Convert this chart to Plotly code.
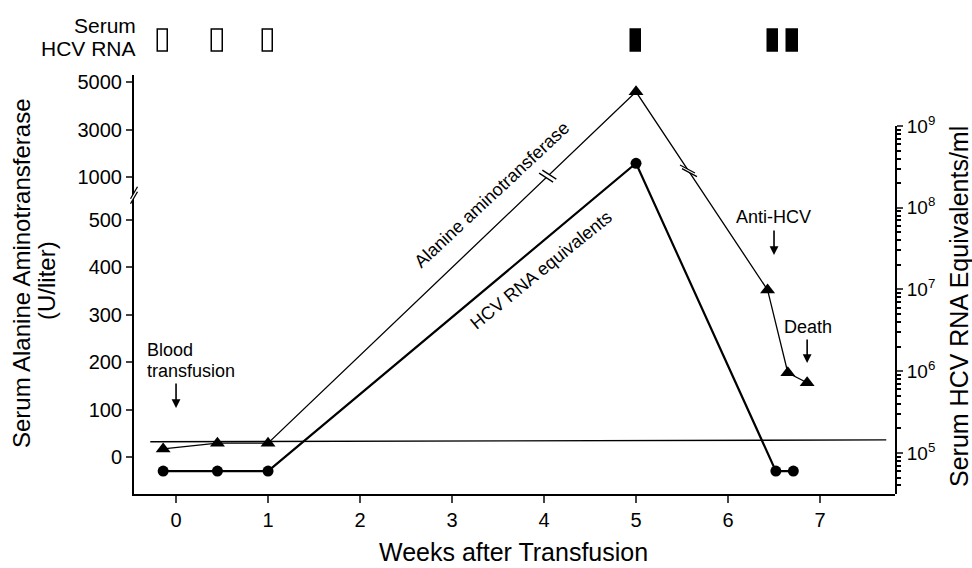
import numpy as np
import plotly.graph_objects as go

# ---- data ----
alt_weeks = [-0.14, 0.45, 1.0, 5.0, 6.43, 6.65, 6.86]
alt_values = [18, 30, 30, 4600, 352, 178, 157]          # U/liter

rna_weeks = [-0.14, 0.45, 1.0, 5.0, 6.52, 6.71]
rna_values = [6e4, 6e4, 6e4, 3.5e8, 6e4, 6e4]           # equivalents/ml

serum_weeks = [-0.14, 0.45, 1.0, 5.0, 6.49, 6.70]
serum_positive = [False, False, False, True, True, True]

limit_weeks = [-0.28, 7.72]
limit_values = [33, 37]

alt_ticks = [0, 100, 200, 300, 400, 500, 1000, 3000, 5000]
alt_ticktext = [str(t) for t in alt_ticks]

rna_ticks = [1e5, 1e6, 1e7, 1e8, 1e9]
rna_ticktext = ["10<sup>5</sup>", "10<sup>6</sup>", "10<sup>7</sup>",
                "10<sup>8</sup>", "10<sup>9</sup>"]

FONT = "Liberation Sans, Arial, Helvetica, sans-serif"
MT, MB = 15, 74
PH = 568 - MT - MB     # plot height in px


def alt_scale(v):
    """Broken ALT axis: linear 0-500, gap, then compressed 1000-5000."""
    v = np.asarray(v, dtype=float)
    return np.where(v <= 500, v, 589.3 + (v - 1000) * 0.0497)


def py(pix):
    """paper y fraction for a pixel row of the 972x568 picture"""
    return (568 - MB - pix) / PH


alt_disp = alt_scale(alt_values)
lim_disp = alt_scale(limit_values)

minor_vals = [k * 10 ** e for e in range(4, 9) for k in range(2, 10)]

fig = go.Figure()

fig.add_trace(go.Scatter(x=limit_weeks, y=list(lim_disp), mode="lines",
                         line=dict(color="black", width=1.4),
                         hoverinfo="skip", showlegend=False))

fig.add_trace(go.Scatter(x=alt_weeks, y=list(alt_disp), mode="lines+markers",
                         line=dict(color="black", width=1.3),
                         marker=dict(symbol="triangle-up", size=13, color="black"),
                         showlegend=False, name="ALT"))

fig.add_trace(go.Scatter(x=rna_weeks, y=rna_values, yaxis="y2", mode="lines+markers",
                         line=dict(color="black", width=2.2),
                         marker=dict(symbol="circle", size=11, color="black"),
                         showlegend=False, name="HCV RNA"))

fig.add_trace(go.Bar(x=serum_weeks, y=[1] * len(serum_weeks), base=0, yaxis="y3",
                     width=0.115,
                     marker=dict(color=["black" if p else "white" for p in serum_positive],
                                 line=dict(color="black", width=1.5)),
                     showlegend=False, hoverinfo="skip"))

fig.update_layout(
    template="none",
    width=972, height=568, autosize=False,
    margin=dict(l=134, r=77, t=MT, b=MB, autoexpand=False),
    plot_bgcolor="rgba(0,0,0,0)", paper_bgcolor="white",
    font=dict(family=FONT, color="black", size=20),
    xaxis=dict(range=[-0.457, 7.815], tickvals=list(range(8)),
               ticks="outside", ticklen=7, tickwidth=2, showline=True,
               linewidth=2, linecolor="black", showgrid=False, zeroline=False,
               tickfont=dict(size=20), anchor="y", automargin=False),
    yaxis=dict(domain=[0, py(75)], range=[-76.7, 803.6],
               tickvals=list(alt_scale(alt_ticks)), ticktext=alt_ticktext,
               ticks="outside", ticklen=6, tickwidth=2, showline=True,
               linewidth=2, linecolor="black", showgrid=False, zeroline=False,
               tickfont=dict(size=20), anchor="x", automargin=False),
    yaxis2=dict(domain=[0, py(126)], type="log", range=[4.498, 9.0],
                side="right", anchor="x",
                tickvals=rna_ticks, ticktext=rna_ticktext,
                ticks="outside", ticklen=6, tickwidth=2, showline=True,
                linewidth=2, linecolor="black", showgrid=False, zeroline=False,
                tickfont=dict(size=19), automargin=False,
                minor=dict(tickvals=minor_vals, ticks="outside", ticklen=4,
                           tickwidth=1.5, tickcolor="black", showgrid=False)),
    # box strip: 1 unit = 22 px, padded so outlines are not clipped
    yaxis3=dict(domain=[py(54.2), py(27.8)], range=[-0.1, 1.1], visible=False,
                anchor="x", automargin=False),
    bargap=0,
)

ann = []
ann.append(dict(text="Serum Alanine Aminotransferase", xref="paper", yref="paper",
                x=(21 - 134) / 761, y=py(273), textangle=-90, showarrow=False,
                font=dict(size=24), xanchor="center", yanchor="middle"))
ann.append(dict(text="(U/liter)", xref="paper", yref="paper",
                x=(46 - 134) / 761, y=py(281), textangle=-90, showarrow=False,
                font=dict(size=24), xanchor="center", yanchor="middle"))
ann.append(dict(text="Serum HCV RNA Equivalents/ml", xref="paper", yref="paper",
                x=(959 - 134) / 761, y=py(307), textangle=-90, showarrow=False,
                font=dict(size=25), xanchor="center", yanchor="middle"))
ann.append(dict(text="Weeks after Transfusion", xref="paper", yref="paper",
                x=(513 - 134) / 761, y=py(552), showarrow=False,
                font=dict(size=25), xanchor="center", yanchor="middle"))
ann.append(dict(text="Serum", xref="paper", yref="paper", x=(138 - 134) / 761,
                y=py(25), showarrow=False, font=dict(size=21),
                xanchor="right", yanchor="middle"))
ann.append(dict(text="HCV RNA", xref="paper", yref="paper", x=(138 - 134) / 761,
                y=py(48), showarrow=False, font=dict(size=21),
                xanchor="right", yanchor="middle"))
ann.append(dict(text="Alanine aminotransferase", x=3.43, y=551, xref="x", yref="y",
                textangle=-43, showarrow=False, font=dict(size=18)))
ann.append(dict(text="HCV RNA equivalents", x=3.97, y=394, xref="x", yref="y",
                textangle=-39, showarrow=False, font=dict(size=18)))
ann.append(dict(text="Blood", x=-0.337, y=(457.5 - 350) / 0.476, xref="x", yref="y",
                xanchor="left", showarrow=False, font=dict(size=18)))
ann.append(dict(text="transfusion", x=-0.337, y=(457.5 - 371) / 0.476, xref="x", yref="y",
                xanchor="left", showarrow=False, font=dict(size=18)))
ann.append(dict(text="", x=0, y=(457.5 - 408) / 0.476, xref="x", yref="y",
                showarrow=True, ax=0, ay=-26, arrowhead=2, arrowsize=1.1,
                arrowwidth=1.6, arrowcolor="black"))
ann.append(dict(text="Anti-HCV", x=6.49, y=(457.5 - 217) / 0.476, xref="x", yref="y",
                showarrow=False, font=dict(size=18)))
ann.append(dict(text="", x=6.5, y=(457.5 - 255) / 0.476, xref="x", yref="y",
                showarrow=True, ax=0, ay=-26, arrowhead=2, arrowsize=1.1,
                arrowwidth=1.6, arrowcolor="black"))
ann.append(dict(text="Death", x=6.87, y=(457.5 - 327) / 0.476, xref="x", yref="y",
                showarrow=False, font=dict(size=18)))
ann.append(dict(text="", x=6.86, y=(457.5 - 363) / 0.476, xref="x", yref="y",
                showarrow=True, ax=0, ay=-25, arrowhead=2, arrowsize=1.1,
                arrowwidth=1.6, arrowcolor="black"))
fig.update_layout(annotations=ann)


# ---- break marks (pixel-sized shapes anchored in data space) ----
def break_mark(xa, ya, xref, yref, sx, sy, ox, oy):
    """two parallel strokes of half-vector (sx, sy), separated by +/-(ox, oy) px,
    with a white gap between them"""
    a1 = (-sx - ox, -sy - oy); b1 = (sx - ox, sy - oy)
    a2 = (-sx + ox, -sy + oy); b2 = (sx + ox, sy + oy)
    poly = f"M{a1[0]},{a1[1]} L{b1[0]},{b1[1]} L{b2[0]},{b2[1]} L{a2[0]},{a2[1]} Z"
    common = dict(xref=xref, yref=yref, xsizemode="pixel", ysizemode="pixel",
                  xanchor=xa, yanchor=ya)
    fig.add_shape(type="path", path=poly, fillcolor="white",
                  line=dict(width=0), **common)
    for a, b in ((a1, b1), (a2, b2)):
        fig.add_shape(type="line", x0=a[0], y0=a[1], x1=b[0], y1=b[1],
                      line=dict(color="black", width=1.3), **common)


bx1 = 4.04
by1 = float(np.interp(bx1, alt_weeks, alt_disp))
bx2 = 5.57
by2 = float(np.interp(bx2, alt_weeks, alt_disp))
break_mark(bx1, by1, "x", "y", 7, -4.5, 1.6, 1.5)
break_mark(bx2, by2, "x", "y", 7.5, -4, 1.0, -1.8)
break_mark(0, 551, "paper", "y", 3.5, 6, 0, 2.5)

fig.write_html("out.html",
               config={"displayModeBar": False},
               post_script="document.body.style.margin='0';"
                           "document.body.style.overflow='hidden';")
